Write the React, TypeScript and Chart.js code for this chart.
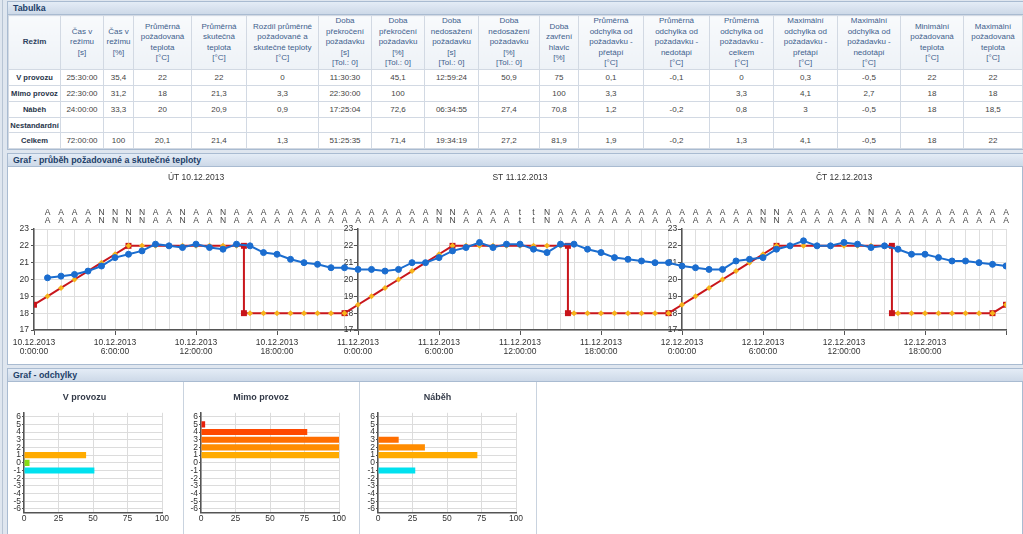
import React, { useEffect, useRef } from "react";
import { Chart, registerables } from "chart.js";

Chart.register(...registerables);
Chart.defaults.font.family = '"Liberation Sans", Arial, sans-serif';
Chart.defaults.color = "#333";

// ---------------- Table data ----------------
const tableHeaders = [
  "Režim",
  "Čas v\nrežimu\n[s]",
  "Čas v\nrežimu\n[%]",
  "Průměrná\npožadovaná\nteplota\n[°C]",
  "Průměrná\nskutečná\nteplota\n[°C]",
  "Rozdíl průměrné\npožadované a\nskutečné teploty\n[°C]",
  "Doba\npřekročení\npožadavku\n[s]\n[Tol.: 0]",
  "Doba\npřekročení\npožadavku\n[%]\n[Tol.: 0]",
  "Doba\nnedosažení\npožadavku\n[s]\n[Tol.: 0]",
  "Doba\nnedosažení\npožadavku\n[%]\n[Tol.: 0]",
  "Doba\nzavření\nhlavic\n[%]",
  "Průměrná\nodchylka od\npožadavku -\npřetápí\n[°C]",
  "Průměrná\nodchylka od\npožadavku -\nnedotápí\n[°C]",
  "Průměrná\nodchylka od\npožadavku -\ncelkem\n[°C]",
  "Maximální\nodchylka od\npožadavku -\npřetápí\n[°C]",
  "Maximální\nodchylka od\npožadavku -\nnedotápí\n[°C]",
  "Minimální\npožadovaná\nteplota\n[°C]",
  "Maximální\npožadovaná\nteplota\n[°C]",
];
const columnWidths = [52, 43, 30, 58, 55, 72, 53, 53, 54, 61, 39, 65, 66, 64, 64, 63, 63, 59];
const tableModes = ["V provozu", "Mimo provoz", "Náběh", "Nestandardní", "Celkem"];
const rowVProvozu = ["25:30:00", "35,4", "22", "22", "0", "11:30:30", "45,1", "12:59:24", "50,9", "75", "0,1", "-0,1", "0", "0,3", "-0,5", "22", "22"];
const rowMimoProvoz = ["22:30:00", "31,2", "18", "21,3", "3,3", "22:30:00", "100", "", "", "100", "3,3", "", "3,3", "4,1", "2,7", "18", "18"];
const rowNabeh = ["24:00:00", "33,3", "20", "20,9", "0,9", "17:25:04", "72,6", "06:34:55", "27,4", "70,8", "1,2", "-0,2", "0,8", "3", "-0,5", "18", "18,5"];
const rowNestandardni = ["", "", "", "", "", "", "", "", "", "", "", "", "", "", "", "", ""];
const rowCelkem = ["72:00:00", "100", "20,1", "21,4", "1,3", "51:25:35", "71,4", "19:34:19", "27,2", "81,9", "1,9", "-0,2", "1,3", "4,1", "-0,5", "18", "22"];
const tableRows = [rowVProvozu, rowMimoProvoz, rowNabeh, rowNestandardni, rowCelkem];
const rowHeights = [16, 16, 16, 15, 16];

// ---------------- Temperature chart data ----------------
const dayTitles = ["ÚT 10.12.2013", "ST 11.12.2013", "ČT 12.12.2013"];
const dayTitleHours = [12, 36, 60];
const axisDates = ["10.12.2013", "11.12.2013", "12.12.2013"];
const axisTimes = ["0:00:00", "6:00:00", "12:00:00", "18:00:00"];
const gridHours = Array.from({ length: 73 }, (_, i) => i);

// actual temperature, hours 1..72
const actualStartHour = 1;
const actualTemp = [
  20.1, 20.2, 20.3, 20.5, 20.8, 21.3, 21.5, 21.7, 22.1, 22.0, 21.9, 22.1,
  21.9, 21.8, 22.1, 22.0, 21.6, 21.5, 21.2, 21.0, 20.9, 20.7, 20.7, 20.6,
  20.6, 20.5, 20.6, 21.0, 21.0, 21.3, 21.7, 21.9, 22.2, 21.9, 22.1, 22.1,
  21.8, 21.6, 22.1, 22.1, 21.8, 21.6, 21.3, 21.2, 21.1, 21.0, 21.0, 20.8,
  20.7, 20.6, 20.6, 21.1, 21.2, 21.3, 21.8, 22.0, 22.3, 22.0, 22.0, 22.2,
  22.1, 21.9, 22.0, 21.8, 21.5, 21.5, 21.3, 21.1, 21.1, 21.0, 20.9, 20.8,
];
// required temperature, hours 0..72
const requiredHourly = [
  18.5, 19, 19.5, 20, 20.5, 21, 21.5, 22, 22, 22, 22, 22, 22, 22, 22, 22, 18, 18, 18, 18, 18, 18, 18, 18,
  18.5, 19, 19.5, 20, 20.5, 21, 21.5, 22, 22, 22, 22, 22, 22, 22, 22, 22, 18, 18, 18, 18, 18, 18, 18, 18,
  18.5, 19, 19.5, 20, 20.5, 21, 21.5, 22, 22, 22, 22, 22, 22, 22, 22, 22, 18, 18, 18, 18, 18, 18, 18, 18,
  18.5,
];
const dropHours = [15.55, 39.55, 63.55];
const markerHours = [0, 7, 23, 31, 47, 55, 71, 72];
const modeRow1 = [
  "A", "A", "A", "A", "N", "N", "N", "N", "A", "A", "N", "A", "A", "N", "A", "A", "A", "A", "A", "A", "A", "A", "A", "A",
  "A", "A", "A", "A", "A", "N", "N", "A", "A", "A", "A", "t", "t", "N", "A", "A", "A", "A", "A", "A", "A", "A", "A", "A",
  "A", "A", "A", "A", "A", "N", "N", "A", "A", "A", "A", "A", "A", "N", "A", "A", "A", "A", "A", "A", "A", "A", "A", "A",
];
const modeRow2 = [
  "A", "A", "A", "A", "N", "N", "N", "N", "A", "A", "N", "A", "A", "N", "A", "A", "A", "A", "A", "A", "A", "A", "A", "A",
  "A", "A", "A", "A", "A", "N", "N", "A", "A", "A", "A", "t", "t", "N", "A", "A", "A", "A", "A", "A", "A", "A", "A", "A",
  "A", "A", "A", "A", "A", "N", "N", "A", "A", "A", "A", "A", "A", "N", "A", "A", "A", "A", "A", "A", "A", "A", "A", "A",
];

// ---------------- Deviation charts data ----------------
const deviationCategories = ["6", "5", "4", "3", "2", "1", "0", "-1", "-2", "-3", "-4", "-5", "-6"];
const deviationColors = ["#c00000", "#e8200c", "#ff4800", "#ff6e00", "#ff8c00", "#ffab00", "#86dd14", "#00e1ef", "#00b6f0", "#0090e8", "#0068d8", "#0048c0", "#0030a0"];
const vProvozuPct = [0, 0, 0, 0, 0, 45, 4, 51, 0, 0, 0, 0, 0];
const mimoProvozPct = [0, 3, 77, 100, 100, 100, 0, 0, 0, 0, 0, 0, 0];
const nabehPct = [0, 0, 0, 15, 34, 72, 0, 27, 0, 0, 0, 0, 0];

const FONT = '"Liberation Sans", Arial, sans-serif';
const headerBg = "linear-gradient(#e4ecf6, #cdd9e8)";
const panelBorder = "#a9bbd1";

function TemperatureChart() {
  const ref = useRef<HTMLCanvasElement>(null);
  useEffect(() => {
    const actualPoints = actualTemp.map((y, i) => ({ x: actualStartHour + i, y }));
    const hourPoints = requiredHourly.slice(1).map((y, i) => ({ x: i + 1, y }));
    const linePoints: { x: number; y: number }[] = [];
    requiredHourly.forEach((y, h) => {
      dropHours.forEach((t) => {
        if (t > h - 1 && t < h) {
          linePoints.push({ x: t, y: requiredHourly[h - 1] });
          linePoints.push({ x: t, y });
        }
      });
      linePoints.push({ x: h, y });
    });
    const markers: { x: number; y: number }[] = markerHours.map((h) => ({ x: h, y: requiredHourly[h] }));
    dropHours.forEach((t) => {
      markers.push({ x: t, y: requiredHourly[Math.floor(t)] });
      markers.push({ x: t, y: requiredHourly[Math.ceil(t)] });
    });

    const yCommon = (pos: any, main: boolean) => ({
      type: "linear" as const,
      axis: "y" as const,
      position: pos,
      min: 17,
      max: 23,
      ticks: {
        stepSize: 1,
        padding: 2,
        color: "#333",
        font: { size: 8.5 },
        callback: (v: any) => (main ? String(v) : String(v) + "  "),
      },
      grid: {
        drawOnChartArea: main,
        color: "#dedede",
        tickLength: 3,
        tickColor: "#555",
      },
      border: { color: "#555", width: 1.5 },
    });

    const chart = new Chart(ref.current!, {
      type: "line",
      data: {
        datasets: [
          {
            label: "Skutečná teplota",
            data: actualPoints,
            borderColor: "#1b6dcf",
            backgroundColor: "#1b6dcf",
            borderWidth: 2,
            pointRadius: 3,
            pointBorderWidth: 1,
            pointHoverRadius: 3,
            order: 0,
          },
          {
            label: "Požadovaná teplota (hod.)",
            data: hourPoints,
            showLine: false,
            pointStyle: "rectRot",
            pointRadius: 3,
            backgroundColor: "#f6b31b",
            borderColor: "#f6b31b",
            borderWidth: 0,
            order: 1,
          },
          {
            label: "Změna požadavku",
            data: markers,
            showLine: false,
            pointStyle: "rect",
            pointRadius: 4.2,
            backgroundColor: "#c8141a",
            borderColor: "#c8141a",
            borderWidth: 0,
            order: 2,
          },
          {
            label: "Požadovaná teplota",
            data: linePoints,
            borderColor: "#c8161c",
            borderWidth: 2,
            pointRadius: 0,
            order: 3,
          },
        ],
      },
      options: {
        animation: false,
        responsive: false,
        plugins: { legend: { display: false }, tooltip: { enabled: false } },
        layout: { padding: { left: 0, right: 16, top: 0, bottom: 0 } },
        scales: {
          x: {
            type: "linear",
            position: "bottom",
            min: 0,
            max: 72,
            afterBuildTicks: (s: any) => {
              s.ticks = gridHours.map((v) => ({ value: v }));
            },
            afterFit: (s: any) => {
              s.height = 34;
            },
            ticks: {
              autoSkip: false,
              maxRotation: 0,
              padding: 3,
              color: "#333",
              font: { size: 8.5, lineHeight: 1.05 },
              callback: (v: any) =>
                v % 6 === 0 && v < 72 ? [axisDates[Math.floor(v / 24)], axisTimes[(v % 24) / 6]] : "",
            },
            grid: {
              color: "#dedede",
              tickLength: 5,
              tickColor: (ctx: any) => (ctx.tick && ctx.tick.value % 6 === 0 ? "#555" : "rgba(0,0,0,0)"),
            },
            border: { color: "#555", width: 1.5 },
          },
          xMode: {
            type: "linear",
            axis: "x",
            position: "top",
            weight: 0,
            min: 0,
            max: 72,
            afterBuildTicks: (s: any) => {
              s.ticks = gridHours.map((v) => ({ value: v }));
            },
            afterFit: (s: any) => {
              s.height = 22;
            },
            ticks: {
              autoSkip: false,
              maxRotation: 0,
              padding: 4,
              color: "#444",
              font: { size: 8.5, lineHeight: 1.0 },
              callback: (v: any) => {
                const i = Math.round(v) - 1;
                return i >= 0 ? [modeRow1[i], modeRow2[i]] : "";
              },
            },
            grid: { display: false, drawTicks: false },
            border: { display: false },
          },
          xDay: {
            type: "linear",
            axis: "x",
            position: "top",
            weight: 1,
            min: 0,
            max: 72,
            afterBuildTicks: (s: any) => {
              s.ticks = dayTitleHours.map((v) => ({ value: v }));
            },
            afterFit: (s: any) => {
              s.height = 40;
            },
            ticks: {
              autoSkip: false,
              maxRotation: 0,
              padding: 24,
              color: "#333",
              font: { size: 8.5 },
              callback: (v: any) => dayTitles[dayTitleHours.indexOf(v)] ?? "",
            },
            grid: { display: false, drawTicks: false },
            border: { display: false },
          },
          y: {
            ...yCommon("left", true),
            afterFit: (s: any) => {
              s.width = 27;
            },
          },
          y2: yCommon({ x: 24 }, false),
          y3: yCommon({ x: 48 }, false),
        } as any,
      },
    });
    return () => chart.destroy();
  }, []);
  return (
    <canvas
      ref={ref}
      width={1015}
      height={197}
      style={{ position: "absolute", left: 7, top: 167, width: 1015, height: 197 }}
    />
  );
}

function DeviationChart(props: { title: string; values: number[]; left: number; axisWidth: number; rightPad: number }) {
  const ref = useRef<HTMLCanvasElement>(null);
  useEffect(() => {
    const chart = new Chart(ref.current!, {
      type: "bar",
      data: {
        labels: deviationCategories,
        datasets: [
          {
            data: props.values,
            backgroundColor: deviationColors,
            barPercentage: 1,
            categoryPercentage: 0.8,
          },
        ],
      },
      options: {
        indexAxis: "y",
        animation: false,
        responsive: false,
        layout: { padding: { left: 0, right: props.rightPad, top: 0, bottom: 9 } },
        plugins: {
          legend: { display: false },
          tooltip: { enabled: false },
          title: {
            display: true,
            text: props.title,
            color: "#333a48",
            font: { size: 9, weight: "bold" },
            padding: { top: 10, bottom: 10 },
          },
        },
        scales: {
          x: {
            min: 0,
            max: 100,
            ticks: { stepSize: 25, padding: 1, color: "#333", font: { size: 8.5 } },
            grid: { color: "#dcdcdc", drawTicks: false },
            border: { color: "#555", width: 1.5 },
          },
          y: {
            ticks: { autoSkip: false, padding: 1, color: "#333", font: { size: 8.5, lineHeight: 1 } },
            grid: { color: "#dcdcdc", offset: false, tickLength: 2, tickColor: "#555" },
            border: { color: "#555", width: 1.5 },
            afterFit: (s: any) => {
              s.width = props.axisWidth;
            },
          },
        } as any,
      },
    });
    return () => chart.destroy();
  }, []);
  return (
    <canvas
      ref={ref}
      width={176}
      height={152}
      style={{ position: "absolute", left: props.left, top: 382, width: 176, height: 152 }}
    />
  );
}

function PanelHeader(props: { top: number; text: string }) {
  return (
    <div
      style={{
        position: "absolute",
        left: 7,
        top: props.top,
        width: 1016,
        height: 14,
        boxSizing: "border-box",
        background: headerBg,
        borderTop: `1px solid ${panelBorder}`,
        borderBottom: `1px solid ${panelBorder}`,
        borderLeft: `1px solid ${panelBorder}`,
        color: "#223f69",
        fontWeight: "bold",
        fontSize: 8.8,
        lineHeight: "12px",
        paddingLeft: 5,
        fontFamily: FONT,
      }}
    >
      {props.text}
    </div>
  );
}

function DataTable() {
  const cellBorder = "1px solid #d2d9e3";
  return (
    <table
      style={{
        position: "absolute",
        left: 8,
        top: 15,
        width: 1014,
        borderCollapse: "collapse",
        tableLayout: "fixed",
        fontFamily: FONT,
        fontSize: 8,
        background: "#fff",
      }}
    >
      <colgroup>
        {columnWidths.map((w, i) => (
          <col key={i} style={{ width: w }} />
        ))}
      </colgroup>
      <thead>
        <tr style={{ height: 54 }}>
          {tableHeaders.map((h, i) => (
            <th
              key={i}
              style={{
                border: cellBorder,
                background: "linear-gradient(#f8fafc, #eef2f7)",
                color: i === 0 ? "#2e4260" : "#40608c",
                fontWeight: i === 0 ? "bold" : "normal",
                whiteSpace: "pre-line",
                lineHeight: "10.4px",
                padding: 0,
                textAlign: "center",
                verticalAlign: "middle",
              }}
            >
              {h}
            </th>
          ))}
        </tr>
      </thead>
      <tbody>
        {tableRows.map((row, r) => (
          <tr key={r} style={{ height: rowHeights[r] }}>
            <td
              style={{
                border: cellBorder,
                fontWeight: "bold",
                fontSize: 7.6,
                color: "#28354a",
                textAlign: "center",
                padding: 0,
                whiteSpace: "nowrap",
                overflow: "hidden",
              }}
            >
              {tableModes[r]}
            </td>
            {row.map((v, c) => (
              <td key={c} style={{ border: cellBorder, color: "#444", textAlign: "center", padding: 0 }}>
                {v}
              </td>
            ))}
          </tr>
        ))}
      </tbody>
    </table>
  );
}

export default function App() {
  return (
    <div
      style={{
        position: "absolute",
        left: 0,
        top: 0,
        width: 1023,
        height: 534,
        overflow: "hidden",
        background: "#dfe6ef",
        fontFamily: FONT,
      }}
    >
      <div style={{ position: "absolute", left: 2, top: 0, width: 1, height: 534, background: "#b7c4d4" }} />
      {/* Panel 1 */}
      <div style={{ position: "absolute", left: 7, top: 1, width: 1016, height: 149, boxSizing: "border-box", border: `1px solid ${panelBorder}`, background: "#fff" }} />
      <PanelHeader top={1} text="Tabulka" />
      <DataTable />
      {/* Panel 2 */}
      <div style={{ position: "absolute", left: 7, top: 153, width: 1016, height: 212, boxSizing: "border-box", border: `1px solid ${panelBorder}`, background: "#fff" }} />
      <PanelHeader top={153} text="Graf - průběh požadované a skutečné teploty" />
      <TemperatureChart />
      {/* Panel 3 */}
      <div style={{ position: "absolute", left: 7, top: 368, width: 1016, height: 170, boxSizing: "border-box", border: `1px solid ${panelBorder}`, background: "#fff" }} />
      <PanelHeader top={368} text="Graf - odchylky" />
      <DeviationChart title="V provozu" values={vProvozuPct} left={7} axisWidth={17} rightPad={21} />
      <DeviationChart title="Mimo provoz" values={mimoProvozPct} left={183} axisWidth={18} rightPad={20} />
      <DeviationChart title="Náběh" values={nabehPct} left={359} axisWidth={19} rightPad={19} />
      <div style={{ position: "absolute", left: 183, top: 382, width: 1, height: 152, background: "#c9d3df" }} />
      <div style={{ position: "absolute", left: 359, top: 382, width: 1, height: 152, background: "#c9d3df" }} />
      <div style={{ position: "absolute", left: 536, top: 382, width: 1, height: 152, background: "#c9d3df" }} />
    </div>
  );
}
